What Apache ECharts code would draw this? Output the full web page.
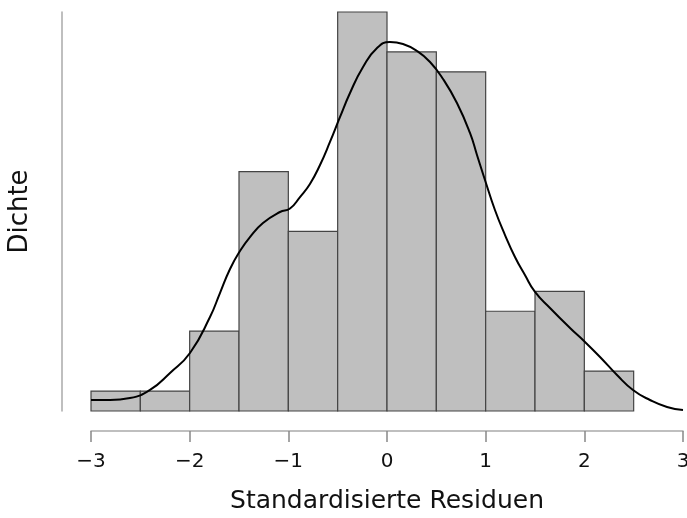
<!DOCTYPE html>
<html>
<head>
<meta charset="utf-8">
<script src="https://cdn.jsdelivr.net/npm/echarts@6/dist/echarts.min.js"></script>
<style>
  html, body { margin: 0; padding: 0; background: #fff; }
  #chart { width: 687px; height: 518px; }
</style>
</head>
<body>
<div id="chart"></div>
<script>
// Histogram bins of standardized residuals (width 0.5) and their counts
const binStarts = [-3, -2.5, -2, -1.5, -1, -0.5, 0, 0.5, 1, 1.5, 2];
const binWidth = 0.5;
const binCounts = [1, 1, 4, 12, 9, 20, 18, 17, 5, 6, 2];

// Kernel density estimate (x, density)
const kdeX = [-3.0, -2.807, -2.605, -2.402, -2.199, -1.997, -1.794, -1.693, -1.591, -1.490,
  -1.389, -1.257, -1.085, -0.983, -0.882, -0.781, -0.679, -0.578, -0.476, -0.375,
  -0.243, -0.101, 0.030, 0.162, 0.304, 0.436, 0.568, 0.709, 0.841, 0.912,
  0.993, 1.094, 1.196, 1.297, 1.398, 1.500, 1.652, 1.855, 2.007, 2.159,
  2.331, 2.493, 2.665, 2.838, 3.0];
const kdeY = [0.0116, 0.0116, 0.0137, 0.0222, 0.0401, 0.0612, 0.0992, 0.1245, 0.1499, 0.1688,
  0.1836, 0.1984, 0.2100, 0.2137, 0.2258, 0.2396, 0.2596, 0.2839, 0.3103, 0.3356,
  0.3630, 0.3831, 0.3894, 0.3873, 0.3799, 0.3683, 0.3504, 0.3250, 0.2934, 0.2702,
  0.2438, 0.2121, 0.1857, 0.1625, 0.1435, 0.1256, 0.1087, 0.0876, 0.0728, 0.0570,
  0.0380, 0.0222, 0.0116, 0.0042, 0.0011];

// X axis tick labels
const xTicks = [-3, -2, -1, 0, 1, 2, 3];

const total = binCounts.reduce((a, b) => a + b, 0);
const histData = binStarts.map((s, i) => [s, s + binWidth, binCounts[i] / (total * binWidth)]);
const yMax = Math.max(...histData.map(d => d[2]));
const kdeData = kdeX.map((x, i) => [x, kdeY[i]]);

const FONT = '"DejaVu Sans", sans-serif';
const chart = echarts.init(document.getElementById('chart'));

chart.setOption({
  animation: false,
  grid: { left: 91, right: 4, top: 12, bottom: 107, outerBoundsMode: 'none', containLabel: false },
  xAxis: {
    type: 'value',
    min: -3, max: 3, interval: 1,
    offset: 20,
    name: 'Standardisierte Residuen',
    nameLocation: 'middle',
    nameGap: 58,
    nameTextStyle: { fontFamily: FONT, fontSize: 25, color: '#111' },
    axisLine: { show: true, onZero: false, lineStyle: { color: '#aaaaaa', width: 1.5 } },
    axisTick: { show: true, length: 11, lineStyle: { color: '#888888', width: 1.5 } },
    axisLabel: {
      margin: 21,
      fontFamily: FONT, fontSize: 20, color: '#111',
      formatter: v => xTicks.includes(v) ? String(v).replace('-', '\u2212') : ''
    },
    splitLine: { show: false }
  },
  yAxis: {
    type: 'value',
    min: 0, max: yMax,
    offset: 29,
    name: 'Dichte',
    nameLocation: 'middle',
    nameGap: 29,
    nameTextStyle: { fontFamily: FONT, fontSize: 26, color: '#111' },
    axisLine: { show: true, onZero: false, lineStyle: { color: '#aaaaaa', width: 1.5 } },
    axisTick: { show: false },
    axisLabel: { show: false },
    splitLine: { show: false }
  },
  series: [
    {
      type: 'custom',
      data: histData,
      encode: { x: [0, 1], y: 2 },
      renderItem: (params, api) => {
        const p0 = api.coord([api.value(0), 0]);
        const p1 = api.coord([api.value(1), api.value(2)]);
        return {
          type: 'rect',
          shape: { x: p0[0], y: p1[1], width: p1[0] - p0[0], height: p0[1] - p1[1] },
          style: { fill: '#bfbfbf', stroke: '#444444', lineWidth: 1.2 }
        };
      },
      z: 1
    },
    {
      type: 'line',
      data: kdeData,
      smooth: true,
      showSymbol: false,
      lineStyle: { color: '#000', width: 2 },
      z: 2
    }
  ]
});
</script>
</body>
</html>
